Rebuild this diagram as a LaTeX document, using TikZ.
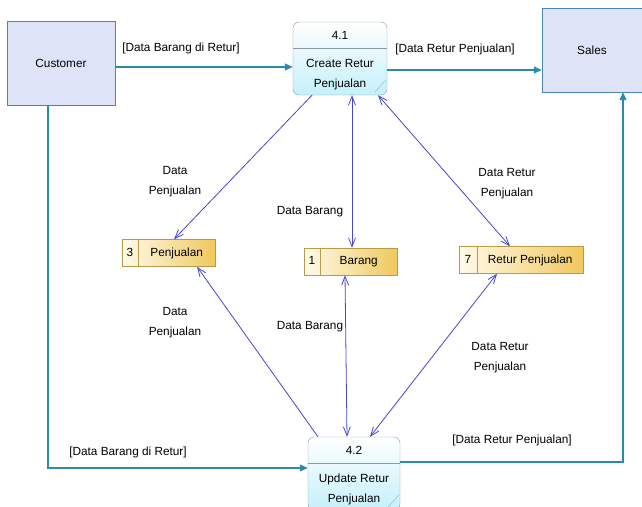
\documentclass[tikz,border=0pt]{standalone}
\usepackage{fontspec}
\setmainfont{Liberation Sans}
\usetikzlibrary{shapes.multipart, arrows.meta}
\definecolor{flowblue}{HTML}{4646D2}
\definecolor{linkteal}{HTML}{2A8CAB}
\definecolor{entfill}{HTML}{DFE3F8}
\definecolor{entline}{HTML}{4A86B4}
\definecolor{procfill}{HTML}{C5F0FB}
\definecolor{procline}{HTML}{8A97A5}
\definecolor{procmark}{HTML}{7FB8E0}
\definecolor{storeleft}{HTML}{FFFBEA}
\definecolor{storeright}{HTML}{F0C85E}
\definecolor{storeline}{HTML}{B89A48}
\tikzstyle{entity} = [rectangle, minimum width=108pt, minimum height=84pt, text centered, draw=entline, fill=entfill]
\tikzstyle{process} = [rectangle, rounded corners=6pt, minimum width=94pt, minimum height=73pt, align=center, draw=procline, top color=white, bottom color=procfill,
  path picture={\draw[procline] ([yshift=-26pt]path picture bounding box.north west) -- ([yshift=-26pt]path picture bounding box.north east);
    \draw[procmark] ([shift={(-12pt,3pt)}]path picture bounding box.south east) -- ([shift={(-1pt,15pt)}]path picture bounding box.south east);}]
\tikzstyle{store} = [rectangle split, rectangle split horizontal, rectangle split parts=2, inner xsep=4pt, inner ysep=7.5pt, draw=storeline, left color=storeleft, right color=storeright]
\tikzstyle{link} = [linkteal, line width=1.2pt, -{Triangle[length=8pt,width=7pt]}]
\tikzstyle{flowout} = [flowblue, line width=0.8pt, -{Straight Barb[length=9pt,width=7pt]}]
\tikzstyle{flowboth} = [flowblue, line width=0.8pt, {Straight Barb[length=9pt,width=7pt]}-{Straight Barb[length=9pt,width=7pt]}]
\tikzstyle{lbl} = [align=center, inner sep=1pt]

\begin{document}
\begin{tikzpicture}[x=1pt, y=-1pt, font=\fontsize{11.8}{20}\selectfont]
\useasboundingbox (0,0) rectangle (642,506);
% External entities
\node (cust) [entity] at (61,63) {Customer};
\node (sales) [entity, minimum width=100pt] at (592,50) {Sales};

% Processes
\node (p41) [process] at (340,58.5) {\rule{0pt}{13pt}4.1\\[8pt]Create Retur\\Penjualan};
\node (p42) [process, minimum width=92pt] at (354,473.5) {\rule{0pt}{13pt}4.2\\[8pt]Update Retur\\Penjualan};

% Data stores
\node (pj) [store] at (168.5,253) {\rule[-3pt]{0pt}{12pt}\makebox[8pt]{3}\nodepart{two}\makebox[69pt]{Penjualan}};
\node (br) [store] at (350.5,261.5) {\rule[-3pt]{0pt}{12pt}\makebox[8pt]{1}\nodepart{two}\makebox[69pt]{Barang}};
\node (rt) [store] at (521,260) {\rule[-3pt]{0pt}{12pt}\makebox[10pt]{7}\nodepart{two}\makebox[98pt]{Retur Penjualan}};

% Customer and Sales flows
\draw [link] ([yshift=-4pt]cust.east) -- ([yshift=-4pt]cust.east -| p41.west);
\node (l1) [lbl] at (181,48) {[Data Barang di Retur]};
\draw [link] ([yshift=-11.5pt]p41.east) -- ([yshift=-11.5pt]p41.east -| sales.west);
\node (l2) [lbl] at (455,49) {[Data Retur Penjualan]};
\draw [link] ([xshift=-13pt]cust.south) |- ([yshift=5.5pt]p42.west);
\node (l3) [lbl] at (128,452) {[Data Barang di Retur]};
\draw [link] ([yshift=11.5pt]p42.east) -| ([xshift=31pt]sales.south);
\node (l4) [lbl] at (512,440) {[Data Retur Penjualan]};

% Flows from 4.1
\draw [flowout] ([xshift=-28pt]p41.south) -- ([xshift=5.5pt]pj.north);
\node (l5) [lbl] at (175,182) {Data\\Penjualan};
\draw [flowboth] ([xshift=12pt]p41.south) -- ([xshift=1.5pt]br.north);
\node (l6) [lbl] at (310,212) {Data Barang};
\draw [flowboth] ([xshift=38pt]p41.south) -- ([xshift=-11pt]rt.north);
\node (l7) [lbl] at (507,184) {Data Retur\\Penjualan};

% Flows from 4.2
\draw [flowout] ([xshift=-36pt]p42.north) -- ([xshift=28.5pt]pj.south);
\node (l8) [lbl] at (175,323) {Data\\Penjualan};
\draw [flowboth] ([xshift=-5.5pt]br.south) -- ([xshift=-7pt]p42.north);
\node (l9) [lbl] at (310,327) {Data Barang};
\draw [flowboth] ([xshift=-24pt]rt.south) -- ([xshift=16pt]p42.north);
\node (l10) [lbl] at (500,358) {Data Retur\\Penjualan};
\end{tikzpicture}
\end{document}
